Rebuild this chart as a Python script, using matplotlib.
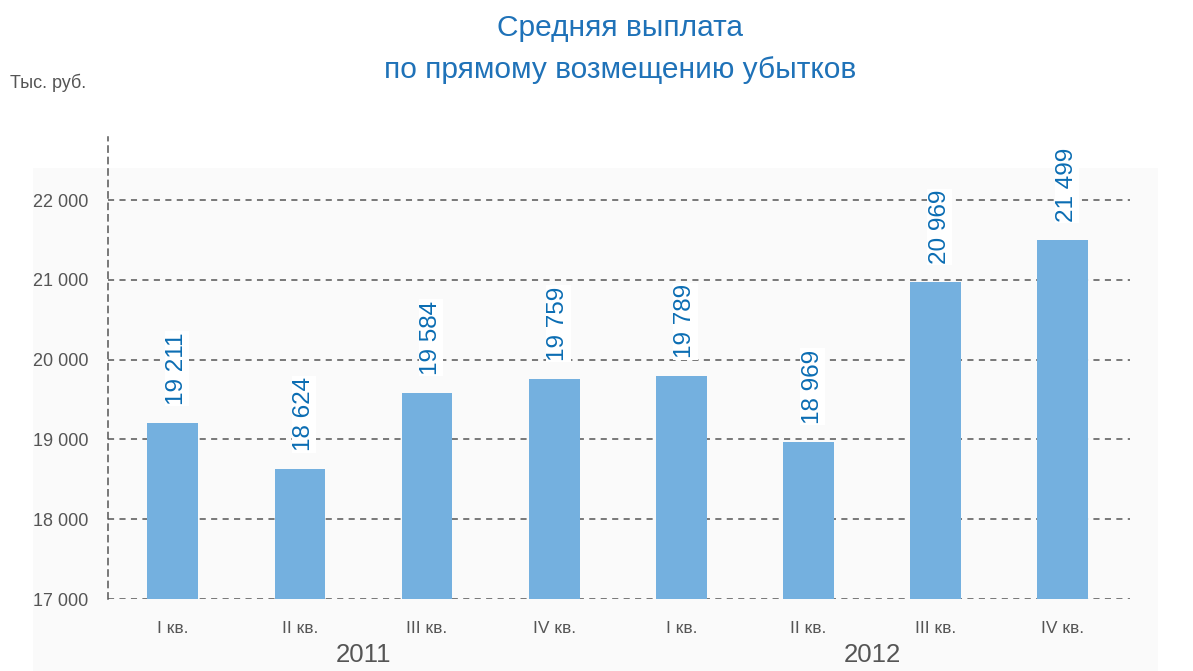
import numpy as np
import matplotlib
matplotlib.use('Agg')
import matplotlib.pyplot as plt
from matplotlib.patches import Rectangle

# данные
quarters = ['I кв.', 'II кв.', 'III кв.', 'IV кв.', 'I кв.', 'II кв.', 'III кв.', 'IV кв.']
years = ['2011', '2012']
values = [19211, 18624, 19584, 19759, 19789, 18969, 20969, 21499]
yticks = [17000, 18000, 19000, 20000, 21000, 22000]

plt.rcParams['font.family'] = ['Liberation Sans', 'DejaVu Sans']

BAR = '#74b0df'
BLUE = '#0b6db3'
GRAY = '#555555'

fig = plt.figure(figsize=(11.93, 6.71), dpi=100)

# светлая подложка
bg = fig.add_axes([0, 0, 1, 1], zorder=0)
bg.set_xlim(0, 1193)
bg.set_ylim(671, 0)
bg.axis('off')
bg.add_patch(Rectangle((33, 168), 1125, 503, color='#fafafa', lw=0))
grad = np.linspace(0.86, 0.98, 30)
bg.imshow(np.tile(grad, (10, 1)), cmap='gray', vmin=0, vmax=1, aspect='auto',
          extent=(110, 135, 599, 170), alpha=0.35)

ax = fig.add_axes([108 / 1193, 1 - 599 / 671, (1130 - 108) / 1193, (599 - 137) / 671], zorder=1)
ax.patch.set_alpha(0)
x = np.arange(len(values))
ax.bar(x, values, width=0.4, color=BAR, zorder=2, bottom=0)
ax.set_xlim(-0.51, 7.53)
ax.set_ylim(17000, 22790)

for v in yticks:
    ax.axhline(v, color=GRAY, lw=1.1, ls=(0, (4, 3.5)), zorder=1)

for s in ['top', 'right', 'bottom']:
    ax.spines[s].set_visible(False)
ax.spines['left'].set_linestyle((0, (4, 3.5)))
ax.spines['left'].set_color(GRAY)
ax.spines['left'].set_linewidth(1.1)

ax.set_yticks(yticks)
ax.set_yticklabels([f'{v:,}'.replace(',', ' ') for v in yticks], fontsize=13, color=GRAY)
ax.tick_params(axis='y', length=0, pad=14)
ax.set_xticks(x)
ax.set_xticklabels(quarters, fontsize=12.5, color=GRAY)
ax.tick_params(axis='x', length=0, pad=16)

for xi, v in zip(x, values):
    ax.annotate(f'{v:,}'.replace(',', ' '), (xi, v), xytext=(3, 13), textcoords='offset points',
                rotation=90, ha='center', va='bottom', fontsize=17.5, color=BLUE, zorder=3,
                bbox=dict(boxstyle='square,pad=0.05', fc='white', ec='none'))

for i, yr in enumerate(years):
    ax.text(1.5 + 4 * i, -0.095, yr, transform=ax.get_xaxis_transform(), ha='center', va='top',
            fontsize=18.5, color=GRAY)

fig.text(10 / 1193, 1 - 83 / 671, 'Тыс. руб.', fontsize=13, color=GRAY, va='center')
title_font = ['Liberation Sans Narrow', 'Liberation Sans', 'DejaVu Sans']
fig.text(620 / 1193, 1 - 28 / 671, 'Средняя выплата', fontsize=21.5, color='#1f72b8',
         ha='center', va='center', family=title_font)
fig.text(620 / 1193, 1 - 70 / 671, 'по прямому возмещению убытков', fontsize=21.5, color='#1f72b8',
         ha='center', va='center', family=title_font)

fig.savefig('out.png', dpi=100)
